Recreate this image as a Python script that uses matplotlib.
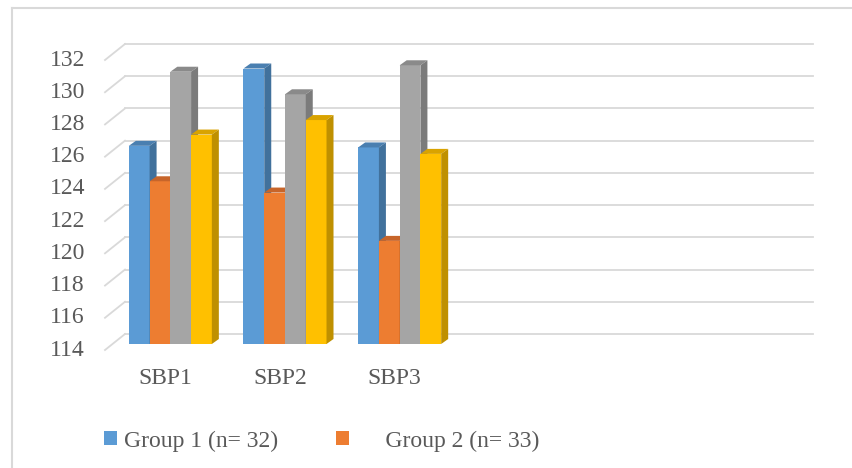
import numpy as np
import matplotlib
matplotlib.use("Agg")
import matplotlib.pyplot as plt
from matplotlib.patches import Polygon
from matplotlib.lines import Line2D
from matplotlib.transforms import ScaledTranslation, blended_transform_factory

# data
categories = ['SBP1', 'SBP2', 'SBP3']
group1 = [126.3, 131.1, 126.2]
group2 = [124.1, 123.4, 120.4]
series3 = [130.9, 129.5, 131.3]
series4 = [127.0, 127.9, 125.8]
legend_labels = ['Group 1 (n= 32)', '     Group 2 (n= 33)']
yticks = np.arange(114, 133, 2)

fronts = ['#5B9BD5', '#ED7D31', '#A5A5A5', '#FFC000']
tops = ['#4A7FB0', '#C7652A', '#8A8A8A', '#D9A300']
sides = ['#41719C', '#AE5A21', '#7B7B7B', '#BF9000']

plt.rcParams['font.family'] = ['Liberation Serif', 'DejaVu Serif']
txt_color = '#595959'
grid_color = '#D9D9D9'
fs = 17

W, H, DPI = 852, 468, 100
fig = plt.figure(figsize=(W / DPI, H / DPI), dpi=DPI)

# axes in the bar plane (pixels measured from the top-left)
left_px, right_px, top_px, bot_px = 113, 801, 54, 344
ax = fig.add_axes([left_px / W, 1 - bot_px / H,
                   (right_px - left_px) / W, (bot_px - top_px) / H])
n_slots = 6
ymin, ymax = 114, 132
ax.set_xlim(-0.5, n_slots - 0.5)
ax.set_ylim(ymin, ymax)
ax.set_axis_off()

# data units per pixel
ux = n_slots / (right_px - left_px)
uy = (ymax - ymin) / (bot_px - top_px)

def shift(dx_px, dy_px):
    return ax.transData + ScaledTranslation(dx_px / DPI, dy_px / DPI, fig.dpi_scale_trans)

# gridlines: back wall plus slanted floor-side segments
back = shift(12, 10)
front = shift(-8, -6)
for v in yticks:
    ax.add_line(Line2D([-0.5, n_slots - 0.5], [v, v], transform=back,
                       color=grid_color, lw=1.3, zorder=0, clip_on=False))
    p0 = front.transform((-0.5, v))
    p1 = back.transform((-0.5, v))
    fig.add_artist(Line2D([p0[0] / W, p1[0] / W], [p0[1] / H, p1[1] / H],
                          color=grid_color, lw=1.3, zorder=0))
    # tick labels sit at the front edge
    ax.text(0, v, str(v), transform=blended_transform_factory(ax.transAxes, ax.transData)
            + ScaledTranslation(-28 / DPI, -6 / DPI, fig.dpi_scale_trans),
            ha='right', va='center', fontsize=fs, color=txt_color)

# 3d-looking bars
x = np.arange(len(categories))
w = 0.181
ddx, ddy = 7 * ux, 5 * uy
handles = []
for j, vals in enumerate([group1, group2, series3, series4]):
    xs = x + (j - 1.5) * w
    z = 2 + j
    bars = ax.bar(xs, np.array(vals) - ymin, bottom=ymin, width=w,
                  color=fronts[j], zorder=z, clip_on=False, linewidth=0)
    handles.append(bars)
    for xc, top in zip(xs, vals):
        x0, x1 = xc - w / 2, xc + w / 2
        ax.add_patch(Polygon([(x0, top), (x1, top), (x1 + ddx, top + ddy), (x0 + ddx, top + ddy)],
                             closed=True, color=tops[j], zorder=z, clip_on=False, lw=0))
        ax.add_patch(Polygon([(x1, ymin), (x1 + ddx, ymin + ddy), (x1 + ddx, top + ddy), (x1, top)],
                             closed=True, color=sides[j], zorder=z, clip_on=False, lw=0))

# category labels
for i, c in enumerate(categories):
    ax.text(i, 0, c, transform=blended_transform_factory(ax.transData, ax.transAxes)
            + ScaledTranslation(-5 / DPI, -34 / DPI, fig.dpi_scale_trans),
            ha='center', va='center', fontsize=fs, color=txt_color)

fig.legend(handles[:2], legend_labels, loc='center left',
           bbox_to_anchor=(104 / W, 1 - 441 / H), ncol=2, frameon=False,
           fontsize=fs, labelcolor=txt_color, handlelength=0.55, handleheight=0.55,
           handletextpad=0.3, columnspacing=2.46, borderpad=0, borderaxespad=0)

# chart border (top and left visible)
fig.add_artist(Line2D([12 / W, 1], [1 - 8 / H, 1 - 8 / H], color=grid_color, lw=1.5))
fig.add_artist(Line2D([12 / W, 12 / W], [0, 1 - 8 / H], color=grid_color, lw=1.5))

fig.savefig('out.png', dpi=DPI)
